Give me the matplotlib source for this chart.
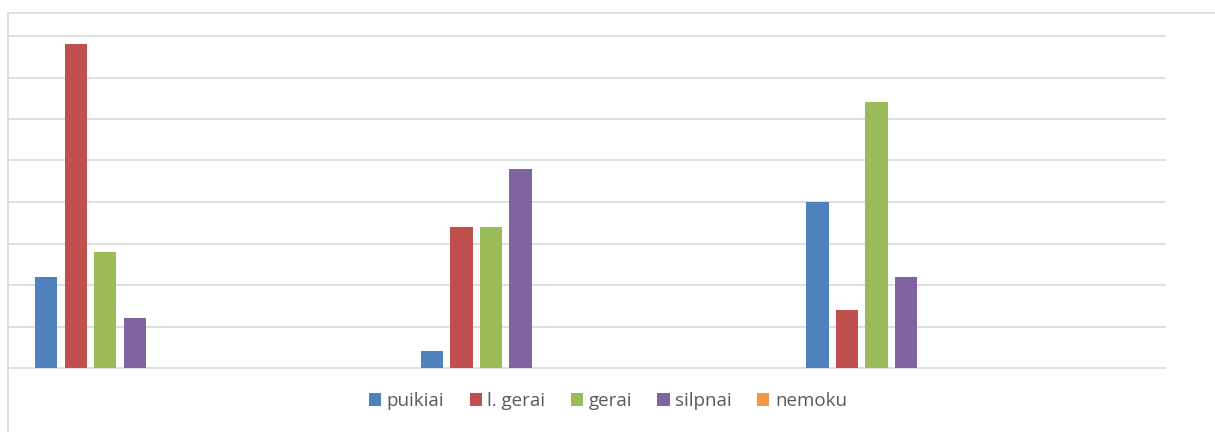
import numpy as np
from matplotlib import pyplot as plt
from matplotlib.patches import Rectangle

# three question groups, no category labels shown on the chart
groups = ['', '', '']
series = ['puikiai', 'l. gerai', 'gerai', 'silpnai', 'nemoku']
puikiai = [11, 2, 20]
l_gerai = [39, 17, 7]
gerai = [14, 17, 32]
silpnai = [6, 24, 11]
nemoku = [0, 0, 0]
colors = ['#4F81BD', '#C0504D', '#9BBB59', '#8064A2', '#F79646']


def main():
    values = [puikiai, l_gerai, gerai, silpnai, nemoku]
    fig = plt.figure(figsize=(12.15, 4.32), dpi=100)
    W, H = 1215, 432

    # chart area border (cropped Excel chart)
    fig.patches.append(Rectangle((8 / W, -0.1), 1.2, (432 - 13) / H + 0.1,
                                 transform=fig.transFigure, fill=False,
                                 edgecolor='#d9d9d9', linewidth=1.2))

    ax = fig.add_axes([8 / W, 64 / H, (1165 - 8) / W, (368 - 36) / H])
    x = np.arange(len(groups))
    slot = 0.0765
    width = 0.058
    first = 0.070
    for j, (name, vals) in enumerate(zip(series, values)):
        ax.bar(x + first + j * slot + width / 2, vals, width, color=colors[j],
               label=name, zorder=3)

    ax.set_xlim(0, 3)
    ax.set_ylim(0, 40)
    ax.set_yticks(np.arange(0, 41, 5))
    ax.yaxis.grid(True, color='#d9d9d9', linewidth=1.2, zorder=0)
    for line in ax.get_ygridlines():
        line.set_clip_on(False)
    ax.tick_params(left=False, bottom=False, labelleft=False, labelbottom=False)
    for s in ax.spines.values():
        s.set_visible(False)

    fig.legend(loc='center', bbox_to_anchor=(608 / W, 1 - 401 / H), ncol=5,
               frameon=False, handlelength=0.65, handleheight=0.65,
               handletextpad=0.3, columnspacing=1.35,
               prop={'family': 'Open Sans', 'size': 13.5}, labelcolor='#595959')

    fig.savefig('out.png', dpi=100)


if __name__ == '__main__':
    main()
